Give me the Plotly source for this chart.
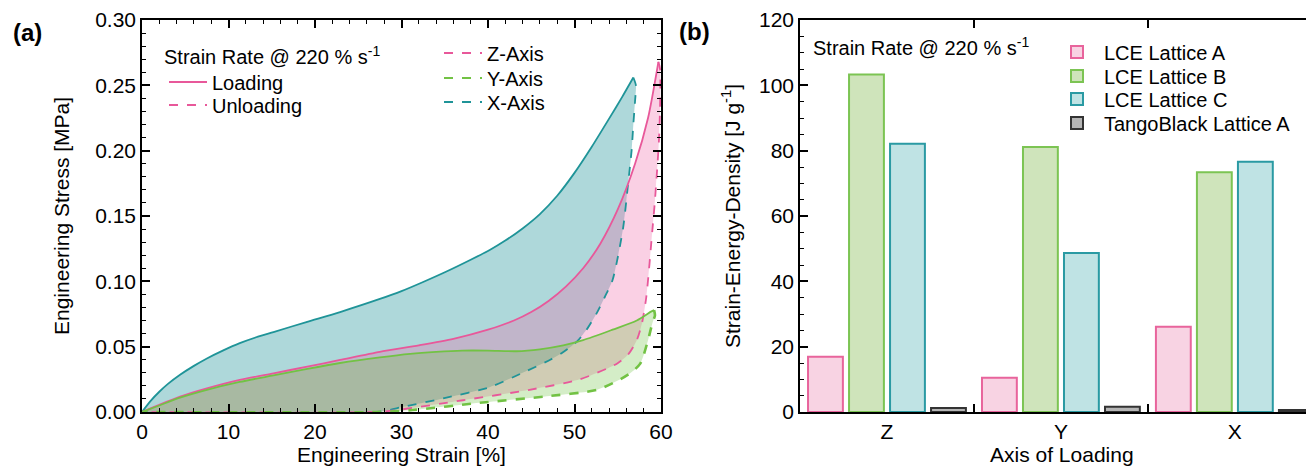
import plotly.graph_objects as go

# ---------------- Panel (a) data: engineering strain [%] / stress [MPa]
x_load_strain = [0, 1, 2, 3, 4.4, 6, 7.5, 9.4, 11.3, 13.2, 15.2, 19.1, 22.9, 27.5, 30, 32.5, 35.2, 38, 40.2, 42, 44, 46, 48, 50, 52, 54, 55.5, 56.8]
x_load_stress = [0, 0.0085, 0.0155, 0.0215, 0.0285, 0.0353, 0.041, 0.0472, 0.0527, 0.0572, 0.0612, 0.069, 0.0765, 0.0865, 0.0925, 0.0995, 0.1075, 0.1165, 0.124, 0.1312, 0.1405, 0.1515, 0.1655, 0.183, 0.203, 0.2245, 0.241, 0.256]
x_unload_strain = [56.8, 57.1, 57.0, 56.8, 56.6, 56.2, 55.6, 54.4, 53.5, 52.6, 51.5, 50.3, 48.5, 47.2, 44, 40.2, 35.2, 30.2, 27.2, 0]
x_unload_stress = [0.256, 0.250, 0.238, 0.220, 0.200, 0.175, 0.140, 0.101, 0.088, 0.076, 0.064, 0.054, 0.045, 0.040, 0.030, 0.019, 0.011, 0.004, 0.0, 0.0]

z_load_strain = [0, 2, 4.4, 7.5, 11.3, 15.2, 19.1, 22.9, 27.5, 32, 36, 40, 43, 45, 47, 49, 51, 53, 55, 57, 58.5, 59.7]
z_load_stress = [0, 0.0055, 0.0117, 0.018, 0.0245, 0.0296, 0.0347, 0.0398, 0.046, 0.051, 0.056, 0.063, 0.070, 0.0765, 0.085, 0.096, 0.110, 0.129, 0.155, 0.190, 0.225, 0.268]
z_unload_strain = [59.7, 59.9, 59.8, 59.3, 59.0, 58.3, 57.8, 57.2, 56.2, 54.9, 50.6, 44.8, 37.1, 29.5, 27, 0]
z_unload_stress = [0.268, 0.262, 0.213, 0.162, 0.139, 0.088, 0.068, 0.055, 0.044, 0.037, 0.025, 0.017, 0.009, 0.0015, 0.0, 0.0]

y_load_strain = [0, 2, 4.4, 7.5, 11.3, 15.2, 19.1, 22.9, 27.5, 31, 34, 37, 40, 43.3, 46, 48.7, 51, 54.4, 57.2, 58.9, 59.2]
y_load_stress = [0, 0.005, 0.011, 0.017, 0.023, 0.028, 0.033, 0.0375, 0.0418, 0.0445, 0.046, 0.047, 0.047, 0.0465, 0.048, 0.051, 0.055, 0.063, 0.070, 0.077, 0.078]
y_unload_strain = [59.2, 59.3, 59.0, 58.5, 57.6, 56.5, 55.3, 52.6, 46.8, 39, 31.3, 27, 0]
y_unload_stress = [0.078, 0.074, 0.068, 0.055, 0.037, 0.030, 0.025, 0.017, 0.012, 0.007, 0.0015, 0.0, 0.0]

# ---------------- Panel (b) data: strain-energy density [J/g]
axes_of_loading = ["Z", "Y", "X"]
lce_a = [16.9, 10.5, 26.1]
lce_b = [103.3, 81.1, 73.4]
lce_c = [82.1, 48.7, 76.6]
tango_a = [1.2, 1.6, 0.6]

x_axis_ticks_a = [0, 10, 20, 30, 40, 50, 60]

PINK = "#e8589a"
GREEN = "#72c244"
TEAL = "#1f9498"
FONT = "Arial, Liberation Sans, sans-serif"
OFF = 8                      # page body margin
W, H = 1314 - OFF, 471 - OFF

def px(X):
    return (X - OFF) / W

def py(Y):
    return 1 - (Y - OFF) / H

fig = go.Figure()

SPL = dict(shape="spline", smoothing=0.7)

def loop_fill(ls, lv, us, uv, fillc):
    fig.add_trace(go.Scatter(x=ls + us, y=lv + uv, mode="lines", fill="toself",
                             fillcolor=fillc, line=dict(width=0, **SPL),
                             showlegend=False, hoverinfo="skip", xaxis="x", yaxis="y"))

loop_fill(x_load_strain, x_load_stress, x_unload_strain, x_unload_stress, "rgba(31,148,152,0.36)")
loop_fill(z_load_strain, z_load_stress, z_unload_strain, z_unload_stress, "rgba(240,100,165,0.30)")
loop_fill(y_load_strain, y_load_stress, y_unload_strain, y_unload_stress, "rgba(114,194,68,0.30)")

for ls, lv, us, uv, c, w in [
    (x_load_strain, x_load_stress, x_unload_strain, x_unload_stress, TEAL, 1.8),
    (z_load_strain, z_load_stress, z_unload_strain, z_unload_stress, PINK, 1.8),
    (y_load_strain, y_load_stress, y_unload_strain, y_unload_stress, GREEN, 2.6),
]:
    fig.add_trace(go.Scatter(x=ls, y=lv, mode="lines", line=dict(color=c, width=1.8, **SPL),
                             showlegend=False, xaxis="x", yaxis="y"))
    fig.add_trace(go.Scatter(x=us, y=uv, mode="lines", line=dict(color=c, width=w, dash="dash", **SPL),
                             showlegend=False, xaxis="x", yaxis="y"))

# ---------------- legends (one legend per entry for exact placement)
legend_layout = {}
def leg_item(key, text_x, cy, itemwidth=38):
    legend_layout[key] = dict(x=px(text_x - itemwidth - 11), y=py(cy), xanchor="left", yanchor="middle",
                              bgcolor="rgba(0,0,0,0)", borderwidth=0, itemwidth=itemwidth,
                              font=dict(family=FONT, size=20, color="black"))

entries_a = [("legend", "Loading", PINK, "solid", 213, 82),
             ("legend2", "Unloading", PINK, "dash", 213, 105),
             ("legend3", "Z-Axis", PINK, "dash", 488, 53),
             ("legend4", "Y-Axis", GREEN, "dash", 488, 78),
             ("legend5", "X-Axis", TEAL, "dash", 488, 102)]
for key, nm, c, d, tx, cy in entries_a:
    fig.add_trace(go.Scatter(x=[None], y=[None], mode="lines", name=nm, line=dict(color=c, width=2, dash=d),
                             legend=key, xaxis="x", yaxis="y"))
    leg_item(key, tx, cy)

# ---------------- Panel (b) bars
bar_specs = [
    ("LCE Lattice A", lce_a, "#f8d3e3", "#e8649c", "legend6", 52),
    ("LCE Lattice B", lce_b, "#cfe4bb", "#7cc453", "legend7", 76),
    ("LCE Lattice C", lce_c, "#bfe3e4", "#2a9aa3", "legend8", 99),
    ("TangoBlack Lattice A", tango_a, "#b5b5b5", "#333333", "legend9", 123),
]
xpos = list(range(len(axes_of_loading)))
for nm, vals, fc, lc, key, cy in bar_specs:
    fig.add_trace(go.Bar(x=xpos, y=vals, name=nm, marker=dict(color=fc, line=dict(color=lc, width=2)),
                         legend=key, xaxis="x2", yaxis="y2"))
    leg_item(key, 1105, cy, itemwidth=44)

tickfont = dict(family=FONT, size=21, color="black")
ydom = [py(412), py(20)]
common = dict(ticklen=8, tickwidth=1.5, tickcolor="black",
              showline=True, linecolor="black", linewidth=1.5, mirror="allticks",
              showgrid=False, zeroline=False, tickfont=tickfont, automargin=False)
minor_common = dict(ticks="inside", ticklen=4, tickwidth=1.2, tickcolor="black")

def ann(text, x, y, size=21, angle=0, xanchor="center", bold=False):
    return dict(text=f"<b>{text}</b>" if bold else text, x=px(x), y=py(y), xref="paper", yref="paper",
                xanchor=xanchor, yanchor="middle", showarrow=False, textangle=angle,
                font=dict(family=FONT, size=size, color="black"))

fig.update_layout(
    width=W, height=H,
    margin=dict(l=0, r=0, t=0, b=0),
    paper_bgcolor="white", plot_bgcolor="white",
    font=dict(family=FONT, color="black"),
    barmode="group", bargap=0.057, bargroupgap=0.15,
    xaxis=dict(domain=[px(142), px(661)], range=[0, 60], tickvals=x_axis_ticks_a, ticks="inside",
               ticklabelstandoff=0, minor=dict(dtick=2, **minor_common), anchor="y", **common),
    yaxis=dict(domain=ydom, range=[0, 0.30], dtick=0.05, tickformat=".2f", ticks="inside",
               minor=dict(dtick=0.01, **minor_common), anchor="x", **common),
    xaxis2=dict(domain=[px(800), 1.0], range=[-0.5, 2.455], tickvals=xpos, ticktext=axes_of_loading,
                ticks="", ticklabelstandoff=0, anchor="y2",
                minor=dict(tickvals=[0.5, 1.5], ticks="inside", ticklen=8, tickwidth=1.5, tickcolor="black"),
                **common),
    yaxis2=dict(domain=ydom, range=[0, 120], dtick=20, anchor="x2", ticks="inside",
                minor=dict(dtick=5, **minor_common), **common),
    annotations=[
        ann("(a)", 27, 33, size=24, bold=True),
        ann("(b)", 694, 32, size=24, bold=True),
        ann("Engineering Strain [%]", 401, 454),
        ann("Axis of Loading", 1062, 454),
        ann("Engineering Stress [MPa]", 61, 216, angle=-90),
        ann("Strain-Energy-Density [J g<sup>-1</sup>]", 731, 216, angle=-90),
        ann("Strain Rate @ 220 % s<sup>-1</sup>", 162, 55, size=20, xanchor="left"),
        ann("Strain Rate @ 220 % s<sup>-1</sup>", 811, 46, size=20, xanchor="left"),
    ],
    **legend_layout,
)

fig.write_html("out.html")
